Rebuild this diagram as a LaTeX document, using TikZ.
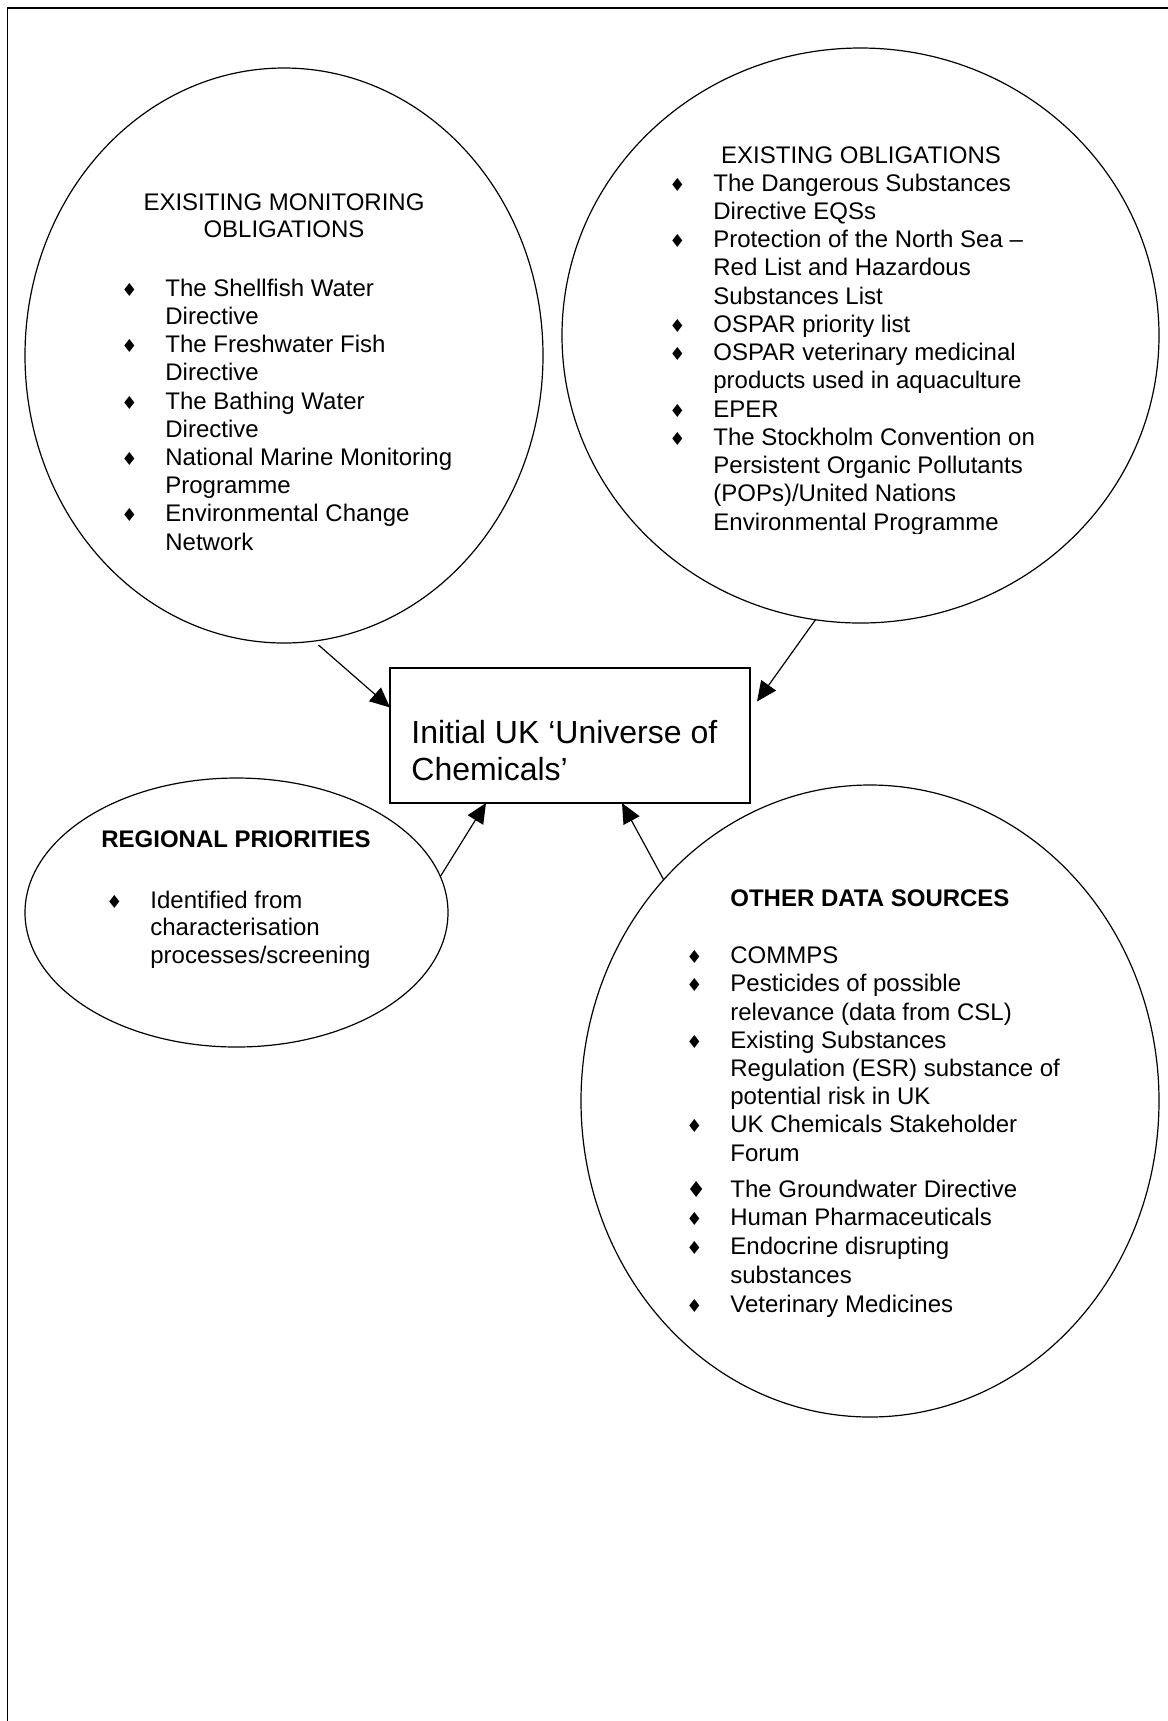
\documentclass[tikz,border=0pt]{standalone}
\usepackage{fontspec}
\setmainfont{Liberation Sans}
\newfontfamily\symfont{DejaVu Sans}
\usetikzlibrary{shapes.geometric,arrows.meta}

\newcommand{\dmd}[1][9]{{\symfont\fontsize{#1}{#1}\selectfont ♦}}
\newcommand{\bul}[1][9]{\makebox[22pt][l]{\dmd[#1]}}
\newcommand{\cnt}{\hspace*{22pt}}

\begin{document}
\begin{tikzpicture}[
  x=0.5pt, y=-0.5pt,
  bubble/.style={draw, ellipse, line width=0.6pt, inner sep=0pt, outer sep=0pt},
  unibox/.style={draw, rectangle, line width=0.6pt, inner sep=0pt, outer sep=0pt,
    minimum width=180pt, minimum height=67.5pt},
  txt/.style={align=left, inner sep=0pt, font=\fontsize{12}{14.1}\selectfont},
  head/.style={align=center, inner sep=0pt, font=\fontsize{12}{13.5}\selectfont},
  arr/.style={-{Triangle[length=10pt,width=9pt]}, line width=0.6pt},
]

\useasboundingbox (0,0) rectangle (1168,1721);
\draw[line width=0.6pt] (7.5,1721) -- (7.5,8) -- (1168,8);

\node (mon) [bubble, minimum width=259pt, minimum height=287.5pt] at (284,355.5) {};
\node (obl) [bubble, minimum width=298.5pt, minimum height=287.5pt] at (860.5,335.5) {};
\node (reg) [bubble, minimum width=211.5pt, minimum height=134.5pt] at (236.5,912.5) {};
\node (oth) [bubble, minimum width=289pt, minimum height=316pt] at (870,1101) {};
\node (uni) [unibox] at (570,735.5) {};

% multi-line nodes sit on the baseline of their last line
\node (montitle) [head, anchor=base] at (284,237) {EXISITING MONITORING\\OBLIGATIONS};
\node (monlist) [txt, anchor=base west] at (121,550) {%
  \bul The Shellfish Water\\ \cnt Directive\\
  \bul The Freshwater Fish\\ \cnt Directive\\
  \bul The Bathing Water\\ \cnt Directive\\
  \bul National Marine Monitoring\\ \cnt Programme\\
  \bul Environmental Change\\ \cnt Network};

\begin{scope}
  \clip (560,40) rectangle (1168,533);
  \node (obltitle) [head, anchor=base] at (861,163) {EXISTING OBLIGATIONS};
  \node (obllist) [txt, anchor=base west, font=\fontsize{12}{14.125}\selectfont] at (669,530) {%
    \bul The Dangerous Substances\\ \cnt Directive EQSs\\
    \bul Protection of the North Sea –\\ \cnt Red List and Hazardous\\ \cnt Substances List\\
    \bul OSPAR priority list\\
    \bul OSPAR veterinary medicinal\\ \cnt products used in aquaculture\\
    \bul EPER\\
    \bul The Stockholm Convention on\\ \cnt Persistent Organic Pollutants\\
    \cnt (POPs)/United Nations\\ \cnt Environmental Programme};
\end{scope}

\node (regtitle) [head, anchor=base, font=\fontsize{12}{14}\selectfont\bfseries] at (236,847) {REGIONAL PRIORITIES};
\node (reglist) [txt, anchor=base west, font=\fontsize{12}{13.75}\selectfont] at (106,963) {%
  \bul Identified from\\ \cnt characterisation\\ \cnt processes/screening};

\node (othtitle) [txt, anchor=base west, font=\fontsize{12}{14}\selectfont\bfseries] at (730,906) {OTHER DATA SOURCES};
\node (othlist) [txt, anchor=base west] at (686,1161) {%
  \bul COMMPS\\
  \bul Pesticides of possible\\ \cnt relevance (data from CSL)\\
  \bul Existing Substances\\ \cnt Regulation (ESR) substance of\\ \cnt potential risk in UK\\
  \bul UK Chemicals Stakeholder\\ \cnt Forum};
\node (othmore) [txt, anchor=base west, font=\fontsize{12}{14.35}\selectfont] at (686,1312) {%
  \bul[11]The Groundwater Directive\\
  \bul Human Pharmaceuticals\\
  \bul Endocrine disrupting\\ \cnt substances\\
  \bul Veterinary Medicines};

\node (unitxt) [txt, anchor=base west, font=\fontsize{16}{18.5}\selectfont] at (411,780) {Initial UK ‘Universe of\\Chemicals’};

\draw[arr, shorten <=3pt] (mon.-84) -- ([yshift=14pt]uni.west);
\draw[arr] (obl.261) -- ([xshift=3.5pt,yshift=17pt]uni.east);
\draw[arr] (reg.10) -- ([xshift=-42pt]uni.south);
\draw[arr] (oth.133) -- ([xshift=26pt]uni.south);

\end{tikzpicture}
\end{document}
